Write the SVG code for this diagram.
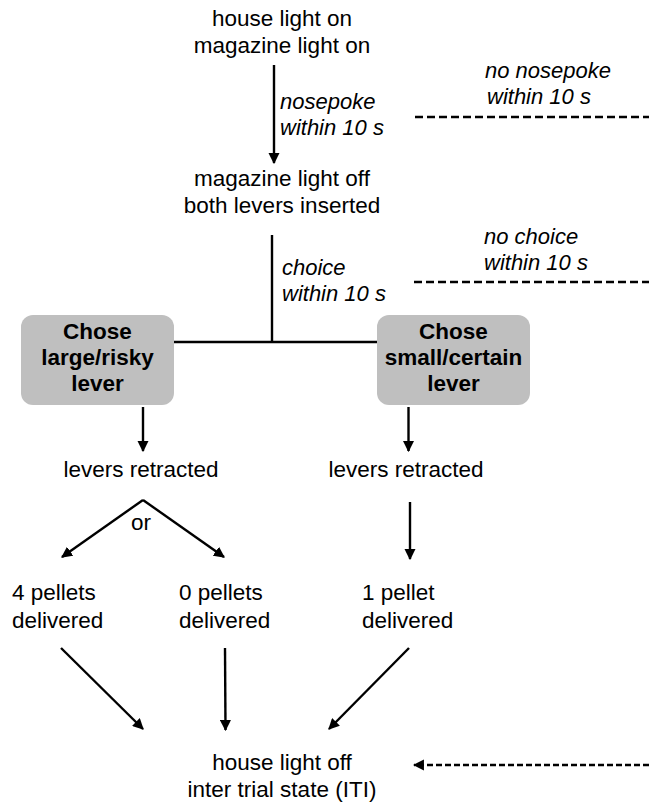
<svg xmlns="http://www.w3.org/2000/svg" width="649" height="802" viewBox="0 0 649 802">
<style>
text{font-family:"Liberation Sans",Arial,sans-serif;font-size:22.5px;fill:#000}
.c{text-anchor:middle}
.i{font-style:italic;font-size:22px}
.b{font-weight:bold;text-anchor:middle}
.ln{stroke:#000;stroke-width:2.4;fill:none}
.ar{marker-end:url(#ah)}
.d{stroke-dasharray:8,4}
.box{fill:#bfbfbf}
</style>
<defs>
<marker id="ah" viewBox="0 0 10 10" refX="9" refY="5" markerWidth="4.6" markerHeight="4.6" markerUnits="strokeWidth" orient="auto">
<path d="M0,0 L10,5 L0,10 z" fill="#000"/>
</marker>
</defs>
<rect width="649" height="802" fill="#fff"/>
<g id="start"><text class="c" x="282" y="26">house light on</text><text class="c" x="282" y="53">magazine light on</text></g>
<g id="inserted"><text class="c" x="282" y="186">magazine light off</text><text class="c" x="282" y="213">both levers inserted</text></g>
<g id="large"><rect class="box" x="21" y="315" width="153" height="90" rx="12"/><text class="b" x="97.5" y="339">Chose</text><text class="b" x="97.5" y="365">large/risky</text><text class="b" x="97.5" y="391">lever</text></g>
<g id="small"><rect class="box" x="377" y="315" width="153" height="90" rx="12"/><text class="b" x="453.5" y="339">Chose</text><text class="b" x="453.5" y="365">small/certain</text><text class="b" x="453.5" y="391">lever</text></g>
<g id="retractedL"><text class="c" x="141" y="477">levers retracted</text></g>
<g id="retractedR"><text class="c" x="406" y="477">levers retracted</text></g>
<g id="p4"><text x="12" y="600">4 pellets</text><text x="12" y="628">delivered</text></g>
<g id="p0"><text x="179" y="600">0 pellets</text><text x="179" y="628">delivered</text></g>
<g id="p1"><text x="362" y="600">1 pellet</text><text x="362" y="628">delivered</text></g>
<g id="iti"><text class="c" x="282" y="770">house light off</text><text class="c" x="282" y="797">inter trial state (ITI)</text></g>
<g id="connectors">
<line class="ln ar" x1="274" y1="65" x2="274" y2="163"/>
<text class="i" x="280" y="109">nosepoke</text><text class="i" x="280" y="135">within 10 s</text>
<line class="ln d" x1="415" y1="117" x2="649" y2="117"/>
<text class="i" x="485" y="78">no nosepoke</text><text class="i" x="487" y="104">within 10 s</text>
<line class="ln" x1="272" y1="235" x2="272" y2="342"/>
<line class="ln" x1="174" y1="342" x2="377" y2="342"/>
<text class="i" x="282" y="275">choice</text><text class="i" x="282" y="301">within 10 s</text>
<line class="ln d" x1="414" y1="282" x2="649" y2="282"/>
<text class="i" x="484" y="244">no choice</text><text class="i" x="484" y="270">within 10 s</text>
<line class="ln ar" x1="143" y1="407" x2="143" y2="451"/>
<line class="ln ar" x1="408.5" y1="407" x2="408.5" y2="451"/>
<line class="ln ar" x1="143" y1="500" x2="62" y2="557"/>
<line class="ln ar" x1="143" y1="500" x2="224" y2="557"/>
<text class="c" x="141" y="530">or</text>
<line class="ln ar" x1="410" y1="502" x2="410" y2="559"/>
<line class="ln ar" x1="61" y1="648" x2="143" y2="729"/>
<line class="ln ar" x1="225" y1="648" x2="225.5" y2="730"/>
<line class="ln ar" x1="409" y1="648" x2="329" y2="729"/>
<line class="ln d ar" x1="649" y1="765" x2="414" y2="765" style="stroke-dasharray:6,3"/>
</g>
</svg>
